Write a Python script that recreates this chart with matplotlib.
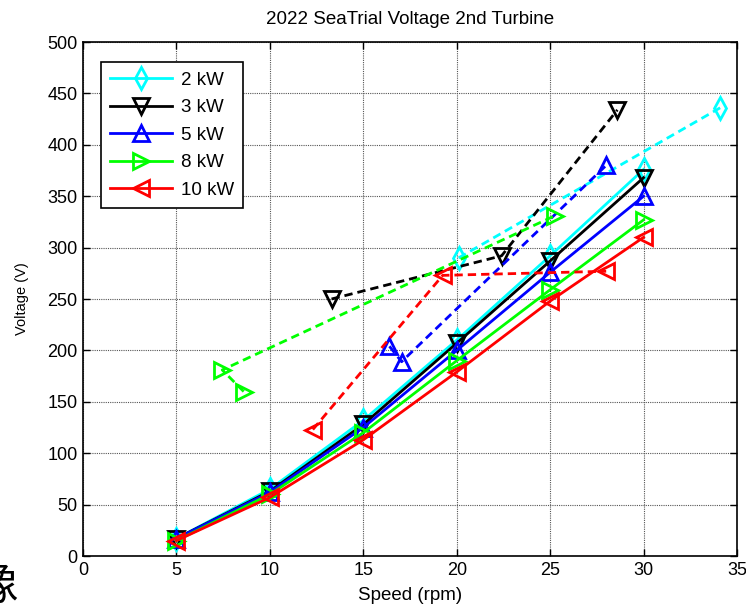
import matplotlib
matplotlib.use("Agg")
import matplotlib.pyplot as plt

plt.rcParams['font.family'] = ['Liberation Sans', 'DejaVu Sans']

# Solid series (fixed speed steps)
speed = [5, 10, 15, 20, 25, 30]
v_2kw = [17, 65, 132, 210, 292, 376]
v_3kw = [17, 63, 128, 207, 287, 368]
v_5kw = [17, 62, 125, 200, 276, 350]
v_8kw = [15, 60, 120, 190, 259, 327]
v_10kw = [15, 57, 113, 179, 248, 310]

# Dashed series (measured points)
ds_2kw_x = [20.1, 34.1]
ds_2kw_y = [290, 436]
ds_3kw_x = [13.3, 22.4, 28.6]
ds_3kw_y = [250, 292, 434]
ds_5kw_x = [16.4, 17.05, 28.0]
ds_5kw_y = [204, 189, 380]
ds_8kw_x = [8.6, 7.45, 25.25]
ds_8kw_y = [160, 181, 331]
ds_10kw_x = [12.3, 19.25, 28.0]
ds_10kw_y = [123, 273, 277]

labels = ['2 kW', '3 kW', '5 kW', '8 kW', '10 kW']
colors = ['#00ffff', '#000000', '#0000ff', '#00ff00', '#ff0000']
markers = ['d', 'v', '^', '>', '<']

fig = plt.figure(figsize=(7.46, 6.08), dpi=100)
ax = fig.add_axes([0.1113, 0.0855, 0.8766, 0.8454])

solid = [v_2kw, v_3kw, v_5kw, v_8kw, v_10kw]
dashed = [(ds_2kw_x, ds_2kw_y), (ds_3kw_x, ds_3kw_y), (ds_5kw_x, ds_5kw_y),
          (ds_8kw_x, ds_8kw_y), (ds_10kw_x, ds_10kw_y)]

mk = dict(markersize=11, markeredgewidth=2, markerfacecolor='none')
for vals, lab, c, m in zip(solid, labels, colors, markers):
    ax.plot(speed, vals, color=c, marker=m, lw=2.0, label=lab, markeredgecolor=c, **mk)
for (xs, ys), c, m in zip(dashed, colors, markers):
    ax.plot(xs, ys, color=c, marker=m, lw=2.0, ls=(0, (3, 1.8)), markeredgecolor=c, **mk)

ax.set_xlim(0, 35)
ax.set_ylim(0, 500)
ax.set_xticks(range(0, 36, 5))
ax.set_yticks(range(0, 501, 50))
ax.grid(True, color='#555555', linestyle=(0, (1, 1)), linewidth=0.8)
ax.tick_params(direction='in', top=True, right=True, labelsize=13, length=5, width=1, pad=4)
for s in ax.spines.values():
    s.set_linewidth(1.2)
ax.set_xlabel('Speed (rpm)', fontsize=13.5, labelpad=6)
ax.set_ylabel('Voltage (V)', fontsize=10.5, labelpad=13)
ax.set_title('2022 SeaTrial Voltage 2nd Turbine', fontsize=13.5, pad=13)

leg = ax.legend(loc='upper left', bbox_to_anchor=(0.0275, 0.961), borderaxespad=0,
                fontsize=13.5, handlelength=3.3, handletextpad=0.45, borderpad=0.5,
                labelspacing=0.56, fancybox=False, framealpha=1, edgecolor='black')
leg.get_frame().set_linewidth(1.2)

fig.text(18/746, 1 - 563/608, '像', fontsize=32, ha='right', va='top',
         family=['Noto Sans CJK SC', 'DejaVu Sans'])

fig.savefig('out.png', dpi=100)
